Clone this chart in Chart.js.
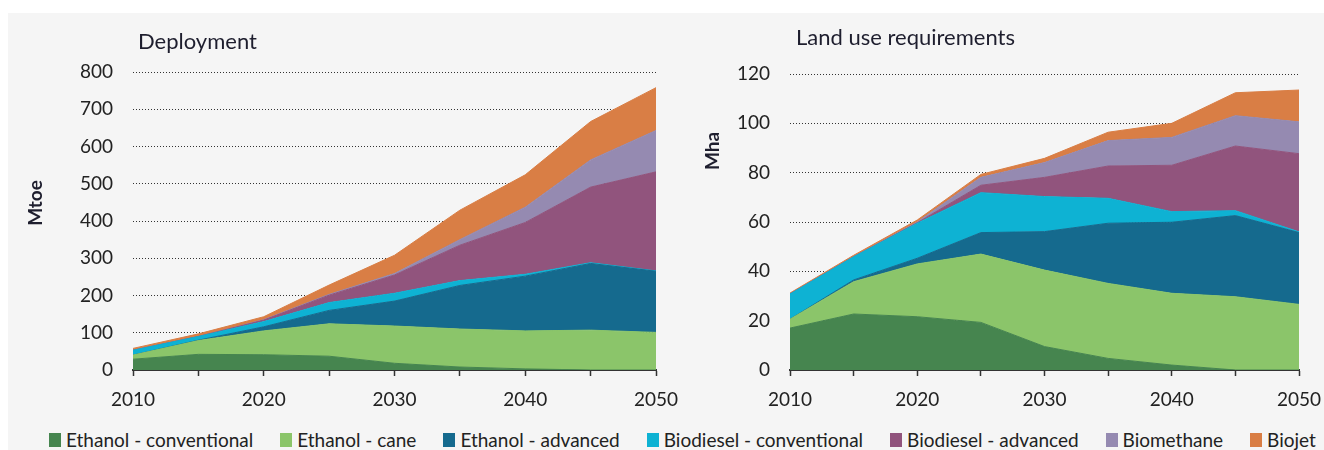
<!DOCTYPE html>
<html>
<head>
<meta charset="utf-8">
<script src="https://cdn.jsdelivr.net/npm/chart.js@4"></script>
<style>
  html, body { margin: 0; padding: 0; background: #fff; overflow: hidden; width: 1324px; height: 450px; }
  #panel { position: absolute; left: 8px; top: 13px; width: 1316px; height: 437px; background: #f5f5f5; }
  canvas { position: absolute; top: 0; }
  #left { left: 0; }
  #right { left: 660px; }
  #legend { position: absolute; left: 49px; top: 428px; display: flex; gap: 27px;
            font-family: Lato, "Liberation Sans", sans-serif; font-size: 19px; color: #222; }
  .item { display: flex; align-items: center; white-space: nowrap; }
  .box { width: 12px; height: 14px; margin-right: 5px; display: inline-block; }
</style>
</head>
<body>
<div id="panel"></div>
<canvas id="left" width="700" height="420"></canvas>
<canvas id="right" width="700" height="420"></canvas>
<div id="legend"></div>
<script>
// years on the x axis (ticks every 5 years, labels every 10)
const years = [2010, 2015, 2020, 2025, 2030, 2035, 2040, 2045, 2050];

const seriesNames = ["Ethanol - conventional", "Ethanol - cane", "Ethanol - advanced",
  "Biodiesel - conventional", "Biodiesel - advanced", "Biomethane", "Biojet"];
const seriesColors = ["#46854f", "#8bc56a", "#156a8e", "#0eb2d3", "#91547d", "#958ab1", "#d97e45"];

// Deployment (Mtoe)
const ethConv = [29, 42, 41, 37, 18, 8, 3, 0, 0];
const ethCane = [11, 37, 64, 87, 100, 102, 102, 107, 101];
const ethAdv = [0, 1, 11, 36, 67, 117, 147, 179, 164];
const bioConv = [13, 10, 14, 21, 21, 13, 5, 2, 1];
const bioAdv = [0, 0, 4, 20, 49, 95, 139, 203, 266];
const biomethane = [0, 0, 1, 2, 4, 15, 41, 73, 111];
const biojet = [5, 7, 8, 25, 49, 79, 87, 103, 115];

// Land use requirements (Mha)
const ethConvLand = [17, 22.7, 21.6, 19.3, 9.5, 4.7, 2, 0, 0];
const ethCaneLand = [3.6, 13.1, 21.4, 27.7, 31, 30.4, 29.1, 29.7, 26.6];
const ethAdvLand = [0, 0.7, 2.3, 8.7, 15.6, 24.4, 28.8, 32.9, 29.1];
const bioConvLand = [10.2, 9.4, 14.2, 16.2, 14.2, 10.1, 4.3, 2.0, 0.3];
const bioAdvLand = [0, 0, 0.2, 3.0, 7.8, 13.1, 18.8, 26.2, 31.7];
const biomethaneLand = [0, 0, 0.3, 3.2, 6, 10.3, 11.3, 12.3, 12.9];
const biojetLand = [0.4, 0.6, 0.8, 1.2, 1.7, 3.4, 5.7, 9.3, 12.9];

const FONT = 'Lato, "Liberation Sans", sans-serif';

// titles drawn on the canvas
const panelText = {
  id: "panelText",
  afterDraw(chart, args, opts) {
    const ctx = chart.ctx;
    ctx.save();
    ctx.fillStyle = "#1e1e2e";
    ctx.textBaseline = "middle";
    ctx.textAlign = "left";
    ctx.font = "22px " + FONT;
    ctx.fillText(opts.title, opts.titleX, opts.titleY);
    ctx.translate(opts.axisX, opts.axisY);
    ctx.rotate(-Math.PI / 2);
    ctx.textAlign = "center";
    ctx.font = "bold 19px " + FONT;
    ctx.fillText(opts.axis, 0, 0);
    ctx.restore();
  }
};

function makeDatasets(values) {
  return values.map((v, i) => ({
    label: seriesNames[i],
    data: v,
    backgroundColor: seriesColors[i],
    borderColor: seriesColors[i],
    borderWidth: 1,
    pointRadius: 0,
    tension: 0,
    fill: "stack"
  }));
}

function makeChart(id, values, max, step, yWidth, top, right, text) {
  return new Chart(document.getElementById(id), {
    type: "line",
    data: { labels: years, datasets: makeDatasets(values) },
    plugins: [panelText],
    options: {
      responsive: false,
      animation: false,
      layout: { padding: { top: top, right: right, bottom: 0, left: 0 } },
      plugins: { legend: { display: false }, tooltip: { enabled: false }, panelText: text },
      scales: {
        x: {
          grid: { drawOnChartArea: false, drawTicks: true, tickLength: 6, tickColor: "#333", tickWidth: 1.5 },
          border: { display: true, color: "#333", width: 2 },
          ticks: {
            color: "#222", font: { family: FONT, size: 19 }, padding: 12,
            maxRotation: 0, autoSkip: false,
            callback: (val, i) => (i % 2 === 0 ? years[i] : "")
          },
          afterFit: s => { s.height = 50; }
        },
        y: {
          stacked: true,
          min: 0, max: max,
          grid: { color: "#333", drawTicks: false, lineWidth: 1 },
          border: { display: false, dash: [1, 2] },
          ticks: { stepSize: step, color: "#222", font: { family: FONT, size: 19 }, padding: 20 },
          afterFit: s => { s.width = yWidth; }
        }
      }
    }
  });
}

makeChart("left", [ethConv, ethCane, ethAdv, bioConv, bioAdv, biomethane, biojet], 800, 100, 133, 72, 44,
  { title: "Deployment", titleX: 138, titleY: 42, axis: "Mtoe", axisX: 36, axisY: 203 });
makeChart("right", [ethConvLand, ethCaneLand, ethAdvLand, bioConvLand, bioAdvLand, biomethaneLand, biojetLand],
  120, 20, 130, 74, 61,
  { title: "Land use requirements", titleX: 136, titleY: 38, axis: "Mha", axisX: 53, axisY: 151 });

// shared legend
const legend = document.getElementById("legend");
seriesNames.forEach((name, i) => {
  const item = document.createElement("span");
  item.className = "item";
  item.innerHTML = '<span class="box" style="background:' + seriesColors[i] + '"></span>' + name;
  legend.appendChild(item);
});
</script>
</body>
</html>
